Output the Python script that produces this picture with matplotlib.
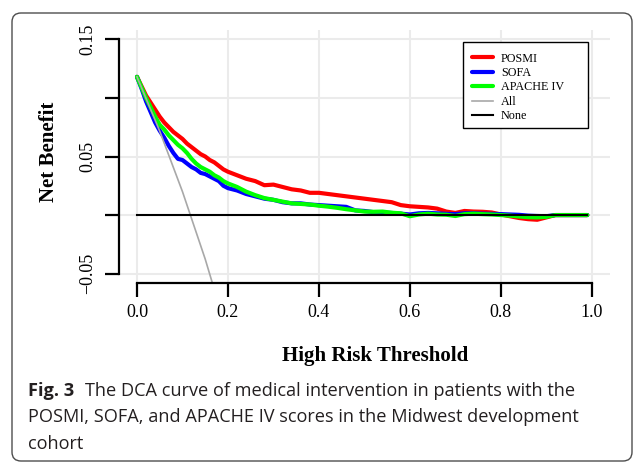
import numpy as np
import matplotlib
matplotlib.use('Agg')
import matplotlib.pyplot as plt
from matplotlib.patches import FancyBboxPatch, Rectangle
from matplotlib.transforms import IdentityTransform

# Threshold grid and net benefit
thresholds = [0.00, 0.01, 0.02, 0.03, 0.04, 0.05, 0.06, 0.07, 0.08, 0.09, 0.10,
              0.11, 0.12, 0.13, 0.14, 0.15, 0.16, 0.17, 0.18, 0.19, 0.20,
              0.22, 0.24, 0.26, 0.28, 0.30, 0.32, 0.34, 0.36, 0.38, 0.40,
              0.42, 0.44, 0.46, 0.48, 0.50, 0.52, 0.54, 0.56, 0.58, 0.60,
              0.62, 0.64, 0.66, 0.68, 0.70, 0.72, 0.74, 0.76, 0.78, 0.80,
              0.82, 0.84, 0.86, 0.88, 0.90, 0.92, 0.94, 0.96, 0.98, 0.99]

nb_posmi = [0.118, 0.110, 0.102, 0.096, 0.090, 0.084, 0.079, 0.075, 0.071, 0.068, 0.065,
            0.061, 0.058, 0.055, 0.052, 0.050, 0.047, 0.045, 0.042, 0.039, 0.037,
            0.034, 0.031, 0.029, 0.0255, 0.026, 0.024, 0.022, 0.021, 0.019, 0.019,
            0.018, 0.017, 0.016, 0.015, 0.014, 0.013, 0.012, 0.011, 0.0085, 0.0075,
            0.007, 0.0065, 0.0055, 0.003, 0.0018, 0.0035, 0.003, 0.0028, 0.0022, 0.0005,
            -0.001, -0.0025, -0.0035, -0.004, -0.002, 0.0, 0.0, 0.0, 0.0, 0.0]

nb_sofa = [0.118, 0.108, 0.097, 0.088, 0.079, 0.072, 0.066, 0.059, 0.053, 0.048, 0.047,
           0.044, 0.041, 0.039, 0.036, 0.035, 0.033, 0.031, 0.029, 0.025, 0.023,
           0.021, 0.018, 0.016, 0.014, 0.013, 0.011, 0.010, 0.010, 0.009, 0.0085,
           0.008, 0.0075, 0.007, 0.004, 0.0035, 0.0025, 0.002, 0.0018, 0.0012, 0.0005,
           0.0015, 0.0018, 0.0015, 0.001, 0.0008, 0.0015, 0.0015, 0.0012, 0.001, 0.0008,
           0.0005, 0.0002, -0.0005, -0.0008, -0.001, 0.0, 0.0, 0.0, 0.0, 0.0]

nb_apache = [0.118, 0.109, 0.100, 0.092, 0.084, 0.077, 0.073, 0.068, 0.064, 0.060, 0.057,
             0.053, 0.048, 0.044, 0.041, 0.039, 0.037, 0.034, 0.032, 0.029, 0.027,
             0.024, 0.020, 0.017, 0.0145, 0.013, 0.0115, 0.010, 0.0095, 0.009, 0.008,
             0.0072, 0.0062, 0.005, 0.004, 0.003, 0.0028, 0.003, 0.002, 0.0015, -0.001,
             0.0005, 0.0012, 0.0005, 0.0003, -0.0008, 0.0008, 0.0012, 0.0008, 0.0005, 0.0,
             -0.0005, -0.0012, -0.0018, -0.002, -0.0015, 0.0, 0.0, 0.0, 0.0, 0.0]

# treat-all line (clipped by the axes)
all_t = [0.00, 0.05, 0.10, 0.15, 0.20]
all_nb = [0.118, 0.0716, 0.020, -0.0376, -0.1025]

none_t = [0.0, 0.99]
none_nb = [0.0, 0.0]

series = [('POSMI', nb_posmi, '#FF0000'),
          ('SOFA', nb_sofa, '#0000FF'),
          ('APACHE IV', nb_apache, '#00FF00')]

xticks = [0.0, 0.2, 0.4, 0.6, 0.8, 1.0]
xlabels = ['0.0', '0.2', '0.4', '0.6', '0.8', '1.0']
yticks = [-0.05, 0.0, 0.05, 0.10, 0.15]
ylabels = ['\u22120.05', '', '0.05', '', '0.15']

caption_lines = ['The DCA curve of medical intervention in patients with the',
                 'POSMI, SOFA, and APACHE IV scores in the Midwest development',
                 'cohort']

plt.rcParams['font.family'] = ['Liberation Serif', 'DejaVu Serif']

W, H = 635, 463
fig = plt.figure(figsize=(W / 100, H / 100), dpi=100)

# rounded frame around figure + caption
frame = FancyBboxPatch((12, 2), 620, H - 15, boxstyle='round,pad=0,rounding_size=9',
                       transform=IdentityTransform(), facecolor='none',
                       edgecolor='#4d4d4d', lw=1.0)
fig.patches.append(frame)

ax = fig.add_axes([118.8 / W, 1 - 283 / H, (610 - 118.8) / W, 253 / H])

for label, vals, col in series:
    ax.plot(thresholds, vals, color=col, lw=3.0, label=label, solid_capstyle='round',
            solid_joinstyle='round')
ax.plot(all_t, all_nb, color='#A8A8A8', lw=1.2, label='All')
ax.plot(none_t, none_nb, color='black', lw=1.5, label='None')

ax.set_xlim(-0.04, 1.04)
ax.set_ylim(-0.058, 0.158)

ax.grid(True, color='#EBEBEB', lw=1.5)
ax.set_axisbelow(True)

for s in ['top', 'right']:
    ax.spines[s].set_visible(False)
ax.spines['left'].set_bounds(-0.05, 0.15)
ax.spines['bottom'].set_bounds(0.0, 1.0)
ax.spines['left'].set_linewidth(1.6)
ax.spines['bottom'].set_linewidth(1.6)

ax.set_xticks(xticks)
ax.set_xticklabels(xlabels)
ax.set_yticks(yticks)
ax.set_yticklabels(ylabels, rotation=90, va='center')
ax.tick_params(axis='both', length=10, width=1.6, labelsize=13, pad=5)
ax.tick_params(axis='y', pad=6)

# R-style legend: entries placed freely, box drawn wider by hand
def ax_x(px):
    return (px - 118.8) / (610 - 118.8)

def ax_y(py):
    return (283 - py) / 253

leg = ax.legend(loc='upper left', bbox_to_anchor=(ax_x(472), ax_y(52.5)), fontsize=8.7,
                frameon=False, handlelength=1.7, handletextpad=0.7, labelspacing=0.2,
                borderpad=0, borderaxespad=0)
box = Rectangle((ax_x(463), ax_y(128)), ax_x(588) - ax_x(463), ax_y(41.7) - ax_y(128),
                transform=ax.transAxes, facecolor='white', edgecolor='black', lw=1.0,
                zorder=4)
ax.add_patch(box)
leg.set_zorder(5)

fig.text(375 / W, 1 - 356 / H, 'High Risk Threshold', ha='center', va='center',
         fontsize=15, fontweight='bold')
fig.text(48.5 / W, 1 - 151.5 / H, 'Net Benefit', ha='center', va='center',
         fontsize=15, fontweight='bold', rotation=90)

# caption, fitted to the measured width of the second line
cap_font = 'Open Sans'
cap_col = '#231f20'
renderer = fig.canvas.get_renderer()
probe = fig.text(0, 0, caption_lines[1], fontsize=14, family=cap_font)
w = probe.get_window_extent(renderer).width
probe.remove()
cap_size = 14 * 554 / w

baselines = [396, 422.5, 449]
fig_lbl = fig.text(28 / W, 1 - baselines[0] / H, 'Fig. 3', fontsize=cap_size,
                   family=cap_font, fontweight='bold', color=cap_col, va='baseline')
wb = fig_lbl.get_window_extent(renderer).width
fig.text((28 + wb + 11) / W, 1 - baselines[0] / H, caption_lines[0], fontsize=cap_size,
         family=cap_font, color=cap_col, va='baseline')
fig.text(28 / W, 1 - baselines[1] / H, caption_lines[1], fontsize=cap_size,
         family=cap_font, color=cap_col, va='baseline')
fig.text(28 / W, 1 - baselines[2] / H, caption_lines[2], fontsize=cap_size,
         family=cap_font, color=cap_col, va='baseline')

fig.savefig('out.png', dpi=100)
